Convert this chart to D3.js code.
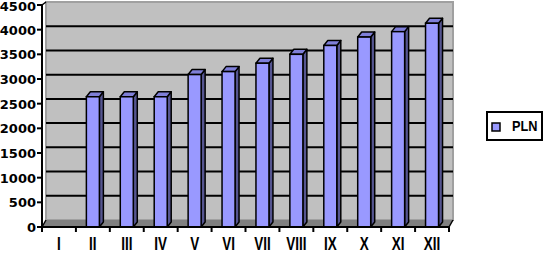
<!DOCTYPE html>
<html>
<head>
<meta charset="utf-8">
<script src="https://cdn.jsdelivr.net/npm/d3@7"></script>
<style>
    body { margin: 0; background: #fff; }
    #chart { width: 544px; height: 257px; }
</style>
</head>
<body>
<div id="chart"></div>
<script>
// monthly values (January has no bar)
let months = ["I", "II", "III", "IV", "V", "VI", "VII", "VIII", "IX", "X", "XI", "XII"];
let pln = [null, 2640, 2640, 2640, 3090, 3150, 3320, 3500, 3680, 3850, 3960, 4130];
let yTicks = [0, 500, 1000, 1500, 2000, 2500, 3000, 3500, 4000, 4500];
let seriesName = "PLN";

(function() {
    let w = 544;
    let h = 257;

    let svg = d3.select("#chart")
        .append("svg")
        .attr("width", w)
        .attr("height", h);

    // front plane and back wall (3d offset)
    let x0 = 42, x1 = 449;
    let dx = 4, dy = -7;

    let x = d3.scaleBand()
        .domain(months)
        .range([x0, x1]);

    let yFront = d3.scaleLinear().domain([0, 4500]).range([227, 5]);
    let yBack = d3.scaleLinear().domain([0, 4500]).range([227 + dy, 2]);

    // back wall
    svg.append("rect")
        .attr("x", x0 + dx)
        .attr("y", yBack(4500))
        .attr("width", x1 - x0)
        .attr("height", yBack(0) - yBack(4500))
        .attr("fill", "#c0c0c0")
        .attr("stroke", "#a0a0a0")
        .attr("stroke-width", 2);

    // floor
    svg.append("polygon")
        .attr("points", [[x0 + dx, yBack(0)], [x1 + dx, yBack(0)], [x1, yFront(0)], [x0, yFront(0)]].join(" "))
        .attr("fill", "#808080");

    // gridlines on the wall
    svg.selectAll(".grid")
        .data(yTicks.filter(d => d > 0 && d < 4500))
        .enter()
        .append("line")
        .attr("class", "grid")
        .attr("x1", x0 + dx)
        .attr("x2", x1 + dx)
        .attr("y1", d => yBack(d))
        .attr("y2", d => yBack(d))
        .attr("stroke", "#000")
        .attr("stroke-width", 2);

    // edge lines from front axis to the wall
    svg.append("line")
        .attr("x1", x0).attr("y1", yFront(4500))
        .attr("x2", x0 + dx).attr("y2", yBack(4500))
        .attr("stroke", "#000").attr("stroke-width", 1.5);
    svg.append("line")
        .attr("x1", x0).attr("y1", yFront(0))
        .attr("x2", x0 + dx).attr("y2", yBack(0))
        .attr("stroke", "#000").attr("stroke-width", 1.5);
    svg.append("line")
        .attr("x1", x1).attr("y1", yFront(0))
        .attr("x2", x1 + dx).attr("y2", yBack(0))
        .attr("stroke", "#000").attr("stroke-width", 1.5);

    // bars
    let bw = 13, bdx = 4, bdy = -5;
    let bars = svg.selectAll(".bar")
        .data(months.map((m, i) => ({m: m, v: pln[i]})).filter(d => d.v != null))
        .enter()
        .append("g")
        .attr("class", "bar");

    let left = d => x(d.m) + x.bandwidth() / 2 - bw / 2;

    bars.append("polygon")
        .attr("points", d => {
            let l = left(d), t = yFront(d.v), b = yFront(0);
            return [[l + bw, t], [l + bw + bdx, t + bdy], [l + bw + bdx, b + bdy], [l + bw, b]].join(" ");
        })
        .attr("fill", "#555590")
        .attr("stroke", "#000")
        .attr("stroke-width", 1.5)
        .attr("stroke-linejoin", "round");

    bars.append("polygon")
        .attr("points", d => {
            let l = left(d), t = yFront(d.v);
            return [[l, t], [l + bdx, t + bdy], [l + bw + bdx, t + bdy], [l + bw, t]].join(" ");
        })
        .attr("fill", "#7f7fd8")
        .attr("stroke", "#000")
        .attr("stroke-width", 1.5)
        .attr("stroke-linejoin", "round");

    bars.append("rect")
        .attr("x", left)
        .attr("y", d => yFront(d.v))
        .attr("width", bw)
        .attr("height", d => yFront(0) - yFront(d.v))
        .attr("fill", "#9999ff")
        .attr("stroke", "#000")
        .attr("stroke-width", 1.5);

    // y axis
    svg.append("line")
        .attr("x1", x0).attr("x2", x0)
        .attr("y1", yFront(4500)).attr("y2", yFront(0))
        .attr("stroke", "#000").attr("stroke-width", 2);

    svg.selectAll(".ytick")
        .data(yTicks)
        .enter()
        .append("line")
        .attr("class", "ytick")
        .attr("x1", x0 - 5).attr("x2", x0)
        .attr("y1", d => yFront(d)).attr("y2", d => yFront(d))
        .attr("stroke", "#000").attr("stroke-width", 2);

    svg.selectAll(".ylabel")
        .data(yTicks)
        .enter()
        .append("text")
        .attr("class", "ylabel")
        .attr("x", 36)
        .attr("y", d => Math.max(yFront(d) + 5, 11))
        .attr("text-anchor", "end")
        .style("font-family", "'DejaVu Sans'")
        .style("font-weight", "bold")
        .style("font-size", "13px")
        .text(d => d);

    // x axis
    svg.append("line")
        .attr("x1", x0).attr("x2", x1)
        .attr("y1", yFront(0)).attr("y2", yFront(0))
        .attr("stroke", "#000").attr("stroke-width", 2);

    svg.selectAll(".xtick")
        .data(months.concat(["end"]))
        .enter()
        .append("line")
        .attr("class", "xtick")
        .attr("x1", (d, i) => x0 + i * x.step())
        .attr("x2", (d, i) => x0 + i * x.step())
        .attr("y1", yFront(0)).attr("y2", yFront(0) + 5)
        .attr("stroke", "#000").attr("stroke-width", 2);

    svg.selectAll(".xlabel")
        .data(months)
        .enter()
        .append("text")
        .attr("class", "xlabel")
        .attr("transform", d => "translate(" + (x(d) + x.bandwidth() / 2) + ",250) scale(0.75,1)")
        .attr("text-anchor", "middle")
        .style("font-family", "'Liberation Sans'")
        .style("font-weight", "bold")
        .style("font-size", "18px")
        .text(d => d);

    // legend
    let lg = svg.append("g").attr("transform", "translate(487,112)");
    lg.append("rect")
        .attr("width", 55).attr("height", 28)
        .attr("fill", "#fff")
        .attr("stroke", "#000").attr("stroke-width", 2);
    lg.append("rect")
        .attr("x", 5).attr("y", 11)
        .attr("width", 8).attr("height", 8)
        .attr("fill", "#9999ff")
        .attr("stroke", "#000").attr("stroke-width", 1.5);
    lg.append("text")
        .attr("transform", "translate(25,19) scale(0.85,1)")
        .style("font-family", "'Liberation Sans'")
        .style("font-weight", "bold")
        .style("font-size", "15px")
        .text(seriesName);
})();
</script>
</body>
</html>
